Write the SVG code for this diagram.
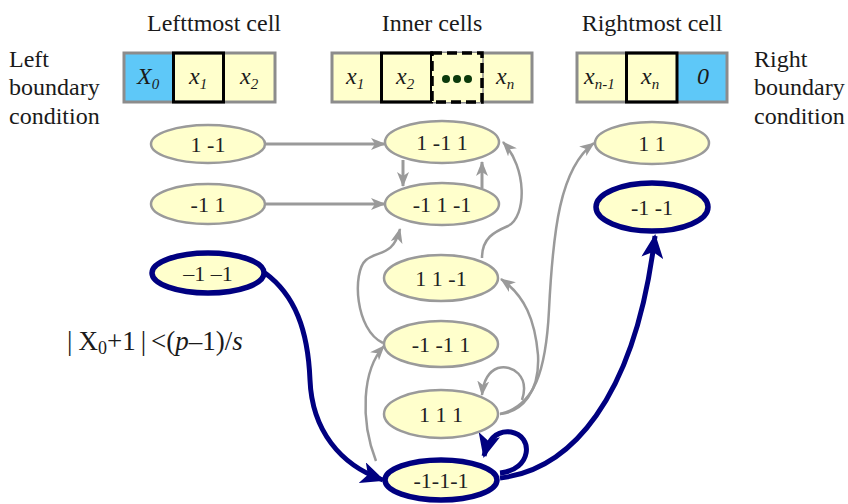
<svg xmlns="http://www.w3.org/2000/svg" width="848" height="504" viewBox="0 0 848 504">
<style>
.t{font-family:'Liberation Serif','DejaVu Serif',serif;fill:#1a1a1a}
.h{font-size:24px}
.cv{font-family:'Liberation Serif','DejaVu Serif',serif;font-style:italic;font-size:24px;fill:#1a1a1a}
.sb{font-size:15px}
.lbl{font-family:'Liberation Serif','DejaVu Serif',serif;font-size:22px;fill:#222;text-anchor:middle}
.eg{fill:#ffffcc;stroke:#9a9a9a;stroke-width:2.5}
.eb{fill:#ffffcc;stroke:#000080;stroke-width:5.5}
.cy{fill:#ffffcc}
.cb{fill:#5ec8f8}
.out{fill:none;stroke:#8c8c8c;stroke-width:3}
.bk{fill:none;stroke:#000;stroke-width:3}
.div{stroke:#8c8c8c;stroke-width:1.5}
.cg{fill:none;stroke:#9a9a9a;stroke-width:2.5}
.cgt{fill:none;stroke:#9a9a9a;stroke-width:3}
.cbl{fill:none;stroke:#000080;stroke-width:5}
</style>
<defs>
<marker id="ag" markerWidth="16" markerHeight="12" refX="14" refY="6" orient="auto" markerUnits="userSpaceOnUse"><path d="M0,0 L15,6 L0,12 L4,6 z" fill="#9a9a9a"/></marker>
<marker id="ab" markerWidth="26" markerHeight="22" refX="22" refY="11" orient="auto" markerUnits="userSpaceOnUse"><path d="M0,0 L24,11 L0,22 L6,11 z" fill="#000080"/></marker>
</defs>

<g id="headers">
<text class="t h" x="214" y="31" text-anchor="middle">Lefttmost cell</text>
<text class="t h" x="432" y="31" text-anchor="middle">Inner cells</text>
<text class="t h" x="652" y="31" text-anchor="middle">Rightmost cell</text>
<text class="t h" x="9" y="67">Left</text>
<text class="t h" x="9" y="95">boundary</text>
<text class="t h" x="9" y="124">condition</text>
<text class="t h" x="754" y="67">Right</text>
<text class="t h" x="754" y="95">boundary</text>
<text class="t h" x="754" y="124">condition</text>
</g>

<g id="leftmost-cell">
<rect class="cb" x="124" y="53" width="49" height="49"/>
<rect class="cy" x="173" y="53" width="102" height="49"/>
<rect class="out" x="124" y="53" width="151" height="49"/>
<rect class="bk" x="173.5" y="53" width="50" height="49"/>
<text class="cv" x="137" y="84">X<tspan class="sb" dy="5">0</tspan></text>
<text class="cv" x="189" y="84">x<tspan class="sb" dy="5">1</tspan></text>
<text class="cv" x="240" y="84">x<tspan class="sb" dy="5">2</tspan></text>
</g>

<g id="inner-cells">
<rect class="cy" x="332" y="53" width="200" height="49"/>
<rect class="out" x="332" y="53" width="200" height="49"/>
<line class="div" x1="483" y1="53" x2="483" y2="102"/>
<rect class="bk" x="381.5" y="53" width="50" height="49"/>
<rect x="432" y="53" width="50" height="49" fill="#ffffcc" stroke="#000" stroke-width="3.5" stroke-dasharray="10,5"/>
<circle cx="446" cy="79" r="4" fill="#0b3a0b"/>
<circle cx="457" cy="79" r="4" fill="#0b3a0b"/>
<circle cx="468" cy="79" r="4" fill="#0b3a0b"/>
<text class="cv" x="346" y="84">x<tspan class="sb" dy="5">1</tspan></text>
<text class="cv" x="396" y="84">x<tspan class="sb" dy="5">2</tspan></text>
<text class="cv" x="496" y="84">x<tspan class="sb" dy="5">n</tspan></text>
</g>

<g id="rightmost-cell">
<rect class="cy" x="577" y="53" width="100" height="49"/>
<rect class="cb" x="677" y="53" width="50" height="49"/>
<rect class="out" x="577" y="53" width="150" height="49"/>
<rect class="bk" x="626.5" y="53" width="50.5" height="49"/>
<text class="cv" x="584" y="84">x<tspan class="sb" dy="5">n-1</tspan></text>
<text class="cv" x="641" y="84">x<tspan class="sb" dy="5">n</tspan></text>
<text class="cv" x="697" y="84">0</text>
</g>

<g id="connectors">
<path class="cgt" d="M266,144 L385,144" marker-end="url(#ag)"/>
<path class="cgt" d="M266,204 L385,204" marker-end="url(#ag)"/>
<path class="cgt" d="M403,160 L403,186" marker-end="url(#ag)"/>
<path class="cgt" d="M482,188 L482,162" marker-end="url(#ag)"/>
<path class="cg" d="M482,258 C482,238 494,232 508,226 C527,216 527,168 503,142" marker-end="url(#ag)"/>
<path class="cg" d="M383,343 C355,330 352,272 366,260 C378,250 393,257 400,229" marker-end="url(#ag)"/>
<path class="cg" d="M376,461 C360,420 362,370 384,346" marker-end="url(#ag)"/>
<path class="cg" d="M500,414 C522,412 540,392 538,355 C535,320 525,296 501,279" marker-end="url(#ag)"/>
<path class="cg" d="M500,414 C535,406 546,370 549,310 C553,230 560,168 594,143" marker-end="url(#ag)"/>
<path class="cg" d="M522,400 C530,376 512,364 498,368 C487,372 483,384 482,395" marker-end="url(#ag)"/>
<path class="cbl" d="M265,273 C295,295 308,330 310,380 C312,430 340,465 383,480" marker-end="url(#ab)"/>
<path class="cbl" d="M500,478 C570,470 635,400 655,236" marker-end="url(#ab)"/>
<path class="cbl" d="M500,473 C532,470 534,436 511,432 C496,430 488,440 484,456" marker-end="url(#ab)"/>
</g>

<g id="n-l1"><ellipse class="eg" cx="208" cy="144" rx="57" ry="19"/><text class="lbl" x="208" y="152">1 -1</text></g>
<g id="n-l2"><ellipse class="eg" cx="208" cy="204" rx="57" ry="20"/><text class="lbl" x="208" y="212">-1 1</text></g>
<g id="n-l3"><ellipse class="eb" cx="208" cy="273" rx="56" ry="20"/><text class="lbl" x="208" y="281">–1 –1</text></g>

<g id="n-m1"><ellipse class="eg" cx="442" cy="142" rx="57" ry="21"/><text class="lbl" x="442" y="150">1 -1 1</text></g>
<g id="n-m2"><ellipse class="eg" cx="442" cy="204" rx="57" ry="21"/><text class="lbl" x="442" y="212">-1 1 -1</text></g>
<g id="n-m3"><ellipse class="eg" cx="441" cy="278" rx="57" ry="23"/><text class="lbl" x="441" y="286">1 1 -1</text></g>
<g id="n-m4"><ellipse class="eg" cx="441" cy="344" rx="57" ry="23"/><text class="lbl" x="441" y="352">-1 -1 1</text></g>
<g id="n-m5"><ellipse class="eg" cx="441" cy="414" rx="57" ry="24"/><text class="lbl" x="441" y="422">1 1 1</text></g>
<g id="n-m6"><ellipse class="eb" cx="441" cy="480" rx="56" ry="20"/><text class="lbl" x="441" y="488">-1-1-1</text></g>

<g id="n-r1"><ellipse class="eg" cx="652" cy="143" rx="57" ry="21"/><text class="lbl" x="652" y="151">1 1</text></g>
<g id="n-r2"><ellipse class="eb" cx="652" cy="207" rx="56" ry="24"/><text class="lbl" x="652" y="215">-1 -1</text></g>

<g id="condition">
<text class="t" x="67" y="350" font-size="27">|<tspan dx="6">X</tspan><tspan font-size="18" dy="4">0</tspan><tspan dy="-4">+1</tspan><tspan dx="5">|</tspan><tspan dx="5">&lt;(</tspan><tspan font-style="italic">p</tspan>–1)/<tspan font-style="italic">s</tspan></text>
</g>
</svg>
